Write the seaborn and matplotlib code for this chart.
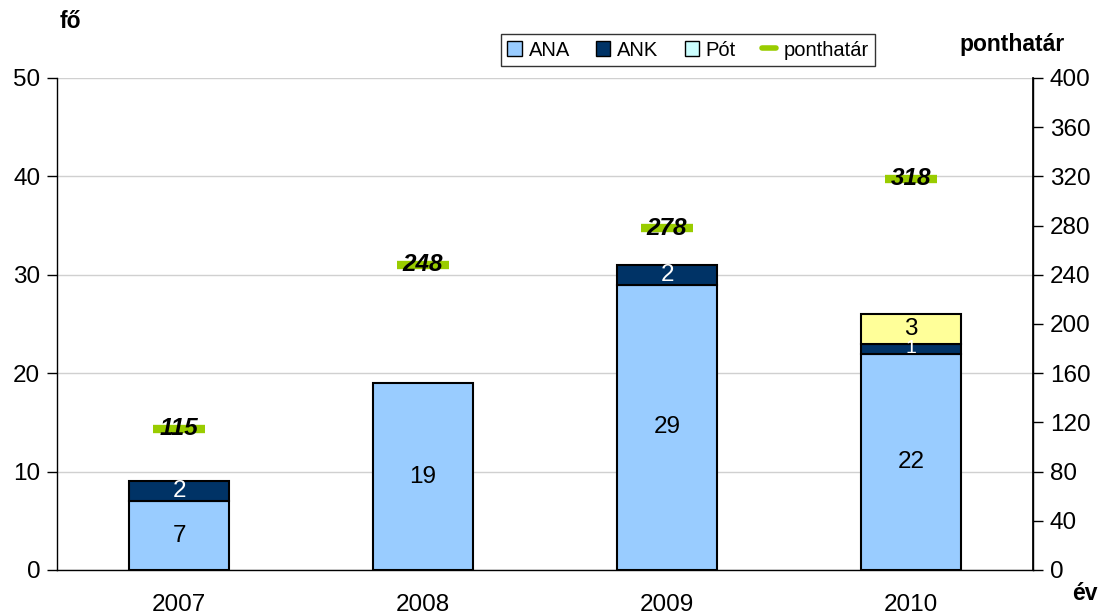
import matplotlib
matplotlib.use("Agg")
import matplotlib.pyplot as plt
import seaborn as sns
import pandas as pd
import numpy as np
from matplotlib.patches import Patch
from matplotlib.lines import Line2D

years = ["2007", "2008", "2009", "2010"]
ana = [7, 19, 29, 22]
ank = [2, 0, 2, 1]
pot = [0, 0, 0, 3]
ponthatar = [115, 248, 278, 318]

c_ana = "#99CCFF"
c_ank = "#003366"
c_pot = "#FFFF99"
c_pot_leg = "#CCFFFF"
c_line = "#99CC00"

sns.set_theme(style="white")
plt.rcParams["font.family"] = ["Liberation Sans", "DejaVu Sans"]
plt.rcParams["text.color"] = "black"
plt.rcParams["xtick.color"] = "black"
plt.rcParams["ytick.color"] = "black"
plt.rcParams["axes.labelcolor"] = "black"

fig = plt.figure(figsize=(11.01, 6.16), dpi=100)
ax = fig.add_axes([57/1101, 46/616, (1033-57)/1101, (570-78)/616])

df = pd.DataFrame({"year": years, "ANA": ana, "ANK": ank, "Pot": pot})
bottom_ank = np.array(ana)
bottom_pot = np.array(ana) + np.array(ank)

w = 0.41
sns.barplot(data=df, x="year", y="ANA", color=c_ana, saturation=1, width=w,
            edgecolor="black", linewidth=1.5, ax=ax)
sns.barplot(data=df[df["ANK"] > 0], x="year", y="ANK", color=c_ank, saturation=1, width=w,
            edgecolor="black", linewidth=1.5, ax=ax, bottom=bottom_ank[df["ANK"] > 0],
            order=years)
sns.barplot(data=df[df["Pot"] > 0], x="year", y="Pot", color=c_pot, saturation=1, width=w,
            edgecolor="black", linewidth=1.5, ax=ax, bottom=bottom_pot[df["Pot"] > 0],
            order=years)

# value labels
fs = 17.5
for i in range(len(years)):
    if ana[i] > 0:
        ax.text(i, ana[i] / 2, str(ana[i]), ha="center", va="center", fontsize=fs, color="black")
    if ank[i] > 0:
        ax.text(i, bottom_ank[i] + ank[i] / 2, str(ank[i]), ha="center", va="center",
                fontsize=fs if ank[i] > 1 else 14, color="white")
    if pot[i] > 0:
        ax.text(i, bottom_pot[i] + pot[i] / 2, str(pot[i]), ha="center", va="center",
                fontsize=fs, color="black")

ax.set_xlim(-0.5, 3.5)
ax.set_ylim(0, 50)
ax.set_yticks(range(0, 51, 10))
ax.yaxis.grid(True, color="#D0D0D0", linewidth=1)
ax.set_axisbelow(True)
ax.set_xlabel("")
ax.set_ylabel("")
ax.spines["top"].set_visible(False)
for s in ["left", "bottom", "right"]:
    ax.spines[s].set_color("black")
    ax.spines[s].set_linewidth(1)
ax.set_xticks(range(4))
ax.set_xticklabels(years, fontsize=fs)
ax.set_xticks([-0.5, 0.5, 1.5, 2.5, 3.5], minor=True)
ax.tick_params(axis="x", which="major", length=0, pad=17, labelcolor="black")
ax.tick_params(axis="x", which="minor", length=7, width=1, color="black", direction="out")
ax.tick_params(axis="y", length=7, width=1, color="black", direction="out", labelsize=fs,
               pad=5, left=True, labelcolor="black")

ax2 = ax.twinx()
ax2.set_ylim(0, 400)
ax2.set_yticks(range(0, 401, 40))
ax2.tick_params(axis="y", length=7, width=1, color="black", direction="out", labelsize=fs,
                pad=5, labelcolor="black")
for s in ["top", "left", "bottom"]:
    ax2.spines[s].set_visible(False)
ax2.spines["right"].set_color("black")
ax2.grid(False)
ax2.plot(range(4), ponthatar, linestyle="none", marker="_", markersize=38,
         markeredgewidth=6, color=c_line)
for i, v in enumerate(ponthatar):
    ax2.text(i, v, str(v), ha="center", va="center", fontsize=fs,
             fontweight="bold", fontstyle="italic", color="black")

fig.text(70/1101, 1 - 22/616, "fő", ha="center", va="center", fontsize=16.5, fontweight="bold")
fig.text(1012/1101, 1 - 45/616, "ponthatár", ha="center", va="center", fontsize=16.5, fontweight="bold")
fig.text(1085/1101, 1 - 594/616, "év", ha="center", va="center", fontsize=16.5, fontweight="bold")

handles = [Patch(facecolor=c_ana, edgecolor="black", linewidth=1),
           Patch(facecolor=c_ank, edgecolor="black", linewidth=1),
           Patch(facecolor=c_pot_leg, edgecolor="black", linewidth=1),
           Line2D([], [], color=c_line, linewidth=4)]
leg = fig.legend(handles, ["ANA", "ANK", "Pót", "ponthatár"], ncol=4,
                 loc="center", bbox_to_anchor=(688/1101, 1 - 50/616),
                 fontsize=14.5, frameon=True, fancybox=False, handlelength=0.7,
                 handleheight=0.7, handletextpad=0.35, columnspacing=1.3,
                 borderpad=0.3, edgecolor="black", labelcolor="black")
leg.get_frame().set_linewidth(1)

fig.savefig("out.png", dpi=100, facecolor="white")
